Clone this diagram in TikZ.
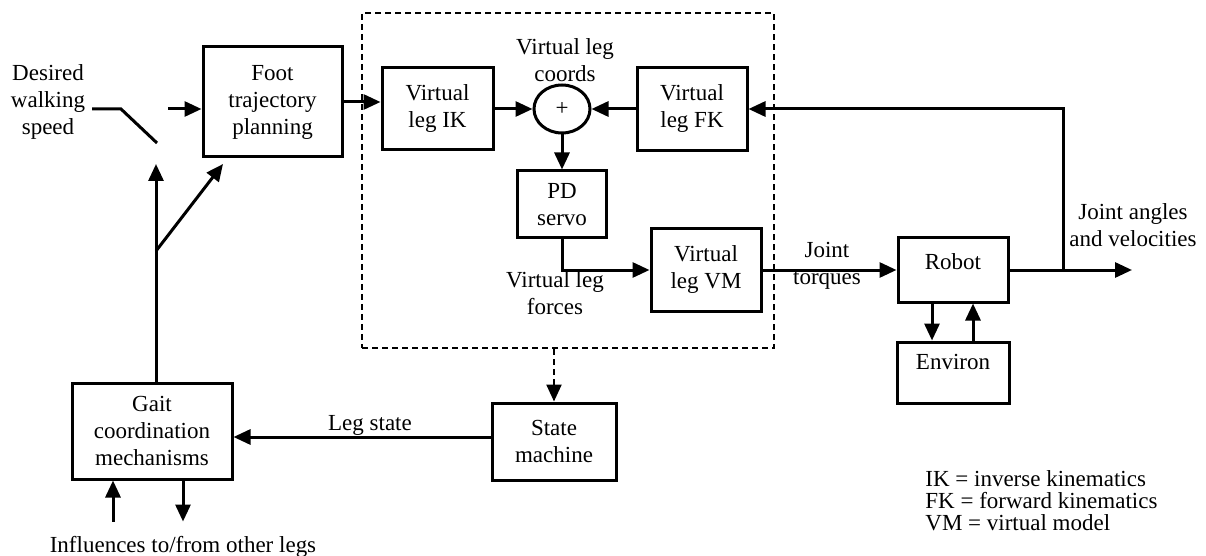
\documentclass[tikz,border=0pt]{standalone}
\usepackage{fontspec}
\setmainfont{Liberation Serif}
\usetikzlibrary{arrows.meta,shapes.geometric,positioning}

\begin{document}
\begin{tikzpicture}[
  x=0.5pt, y=-0.5pt,
  every node/.style={font=\fontsize{11.5}{13.5}\selectfont},
  box/.style={draw, line width=1.5pt, align=center, inner sep=1pt},
  lbl/.style={align=center, inner sep=1pt},
  ln/.style={line width=1.5pt},
  arr/.style={line width=1.5pt, -{Triangle[length=8.5pt,width=7.5pt]}},
  dsh/.style={line width=1.2pt, dash pattern=on 3pt off 2pt}
]
\useasboundingbox (0,0) rectangle (1206,556);

% dashed controller frame
\node[dsh, draw, minimum width=206pt, minimum height=167.5pt] (ctrl) at (568,180.5) {};

% blocks
\node[box, minimum width=69.5pt, minimum height=55pt] (foot) at (272.5,102) {Foot\\trajectory\\planning};
\node[box, minimum width=55.5pt, minimum height=41pt] (ik) at (437.5,109) {Virtual\\leg IK};
\node[box, ellipse, minimum width=28pt, minimum height=24pt, inner sep=0pt] (sum) at (562,109) {+};
\node[box, minimum width=55pt, minimum height=41.5pt] (fk) at (692,109) {Virtual\\leg FK};
\node[box, minimum width=44.5pt, minimum height=33.5pt] (pd) at (562,204.5) {PD\\servo};
\node[box, minimum width=55pt, minimum height=41.5pt] (vm) at (706,270) {Virtual\\leg VM};
\node[box, minimum width=55pt, minimum height=32pt] (robot) at (953,270) {Robot\\[-5pt]\mbox{}};
\node[box, minimum width=56pt, minimum height=30.5pt] (env) at (953,372.5) {Environ\\[-3pt]\mbox{}};
\node[box, minimum width=62pt, minimum height=38.5pt] (state) at (554,441.5) {State\\machine};
\node[box, minimum width=80pt, minimum height=48pt] (gait) at (152,431) {Gait\\coordination\\mechanisms};

% labels
\node[lbl] (speed) at (48,102) {Desired\\walking\\speed};
\node[lbl] (coords) at (565,60) {Virtual leg\\coords};
\node[lbl] (forces) at (555,293.5) {Virtual leg\\forces};
\node[lbl] (torques) at (827,266) {Joint\\torques};
\node[lbl] (angles) at (1133,225) {Joint angles\\and velocities};
\node[lbl] (legstate) at (370,425) {Leg state};
\node[lbl] (influences) at (183,547) {Influences to/from other legs};
\node[lbl, align=left, anchor=west, font=\fontsize{11.5}{11}\selectfont] (legend) at (923,501)
  {IK = inverse kinematics\\FK = forward kinematics\\VM = virtual model};

% switch
\coordinate (swa) at (92,109);
\coordinate (swb) at (121,109);
\coordinate (swc) at (157,143);
\coordinate (swd) at (168,109);
\coordinate (swtip) at (156,164);
\coordinate (br) at (156,251);
\coordinate (ftip) at (223,164);
\coordinate (fbk) at (1063,270);
\coordinate (outend) at (1132,270);
\draw[ln] (swa) -- (swb) -- (swc);
\draw[arr] (swd) -- (swd -| foot.west);
\draw[arr] (gait.north -| br) -- (swtip);
\draw[arr] (br) -- (ftip);

% signal flow
\draw[arr] (foot.east) -- (foot.east -| ik.west);
\draw[arr] (ik.east) -- (sum.west);
\draw[arr] (fk.west) -- (sum.east);
\draw[arr] (sum.south) -- (pd.north);
\draw[arr] (pd.south) |- (vm.west);
\draw[arr] (vm.east) -- (robot.west);
\draw[arr] (robot.east) -- (outend);
\draw[arr] (fbk) |- (fk.east);
\draw[arr] ([xshift=-10.5pt]robot.south) -- ([xshift=-10.5pt]env.north);
\draw[arr] ([xshift=10pt]env.north) -- ([xshift=10pt]robot.south);
\draw[arr, dsh] (ctrl.south -| state.north) -- (state.north);
\draw[arr] (state.west |- 0,437) -- (gait.east |- 0,437);
\draw[arr] ([xshift=-19.5pt]gait.south) ++(0,41) -- ([xshift=-19.5pt]gait.south);
\draw[arr] ([xshift=15.5pt]gait.south) -- ++(0,41);
\end{tikzpicture}
\end{document}
